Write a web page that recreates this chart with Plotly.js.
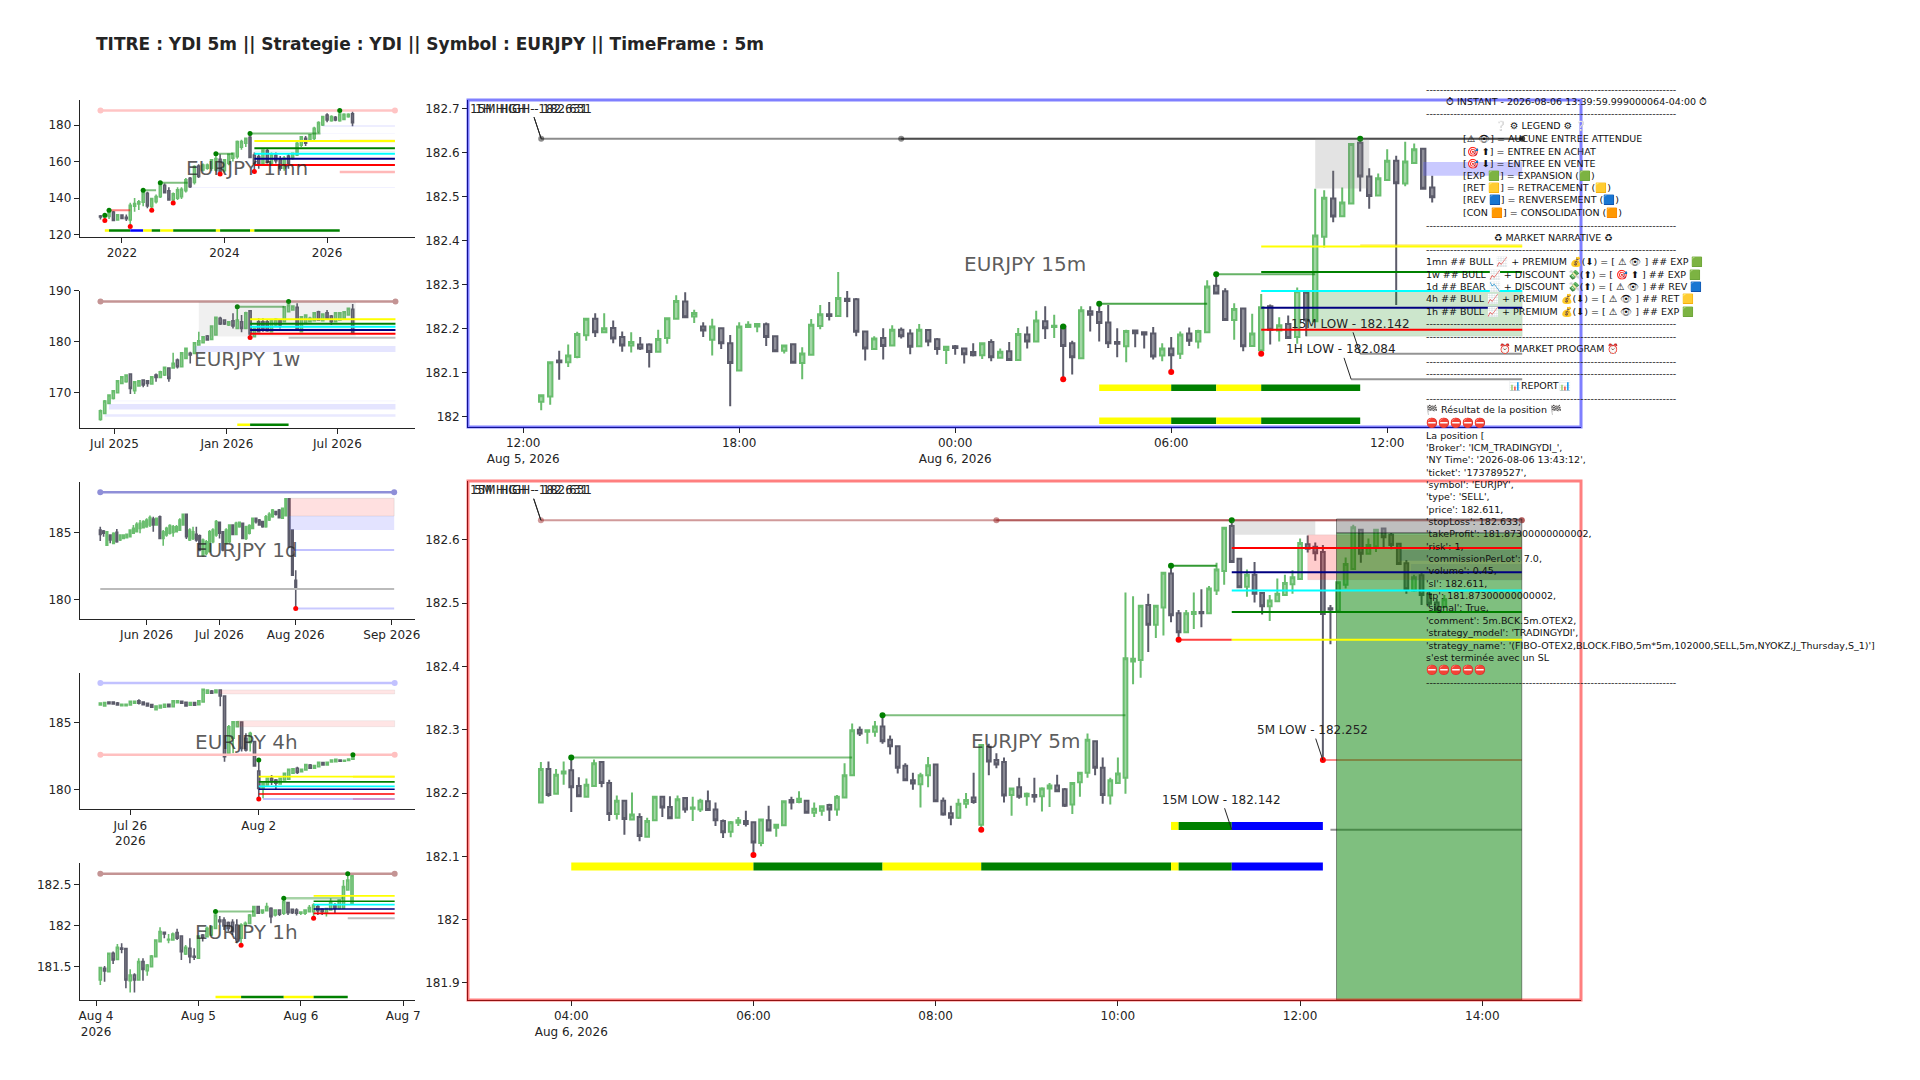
<!DOCTYPE html>
<html><head><meta charset="utf-8">
<script src="https://cdn.plot.ly/plotly-3.0.1.min.js"></script>
<style>html,body{margin:0;padding:0;background:#fff}</style></head>
<body><div id="chart" style="width:1920px;height:1080px"></div>
<script>
// ---- candle values, flat: open,high,low,close per candle ----
const ohlc1mn=[130.2,130.8,128.3,129.7, 129.7,131,127.8,129.9, 129.9,133.3,128.5,132.2, 132.4,133,127.5,127.8, 128,131,127.7,130.9, 130.7,131,128.5,128.9, 129.5,131,127.5,128.7, 128,137.5,124.4,136, 135.5,140,132.5,137, 136.8,139,133.5,138, 137.7,144.3,135.5,143, 142.6,143.5,134.5,135.7, 135.3,140,133.4,139.7, 138,142,137,140.8, 140.8,148.4,140,147.2, 147,148,142.5,143, 144,146,138.5,139, 139,143,137.3,142.3, 139.9,146,139,144.5, 140.8,146,139.5,144.8, 144.1,151,143,150, 150.8,151.5,145.5,146.3, 148.5,158,147.5,157.2, 157.6,158.5,151,151.8, 155.4,159,154.5,158.1, 156.3,159,155.5,158.1, 156.3,161,155,160.9, 155.4,164.3,154.5,161.6, 161.2,164,153.2,154.5, 155,161,154,160.9, 159,164,158,164, 161.8,165,160,164.5, 162.7,171.5,161.5,170.9, 167.8,172,166.5,170.9, 170,173,168,172.7, 173.3,175.4,162,162.2, 163.6,165,154.5,159.1, 162.8,164,156,159, 159,166.5,158,166.3, 166,167,159,160, 159,165,158,164, 163.4,165,159,160.5, 161.2,163,155,156.3, 156.3,163,155,161.8, 163,164.5,156,159, 162.3,165,161,164.5, 163.6,171,163,170, 169,174,168,173.6, 172.7,174,168.5,170, 171.8,175,171,174.6, 172.7,179,171.5,178.2, 176.4,182,175.5,181.3, 180,185,179.5,184.6, 185.5,186.5,181.5,182.8, 182.4,185.3,181.8,184.6, 184.2,185,182,182.8, 182.4,188,181.8,186, 183.1,186.5,182.8,185.9, 184.6,186.5,184,185.9, 186.1,187.5,179.3,181.3];
const ohlc1w=[164.77,166.73,164.51,166.47, 165.95,168.56,165.88,168.37, 167.91,169.67,167.78,169.54, 168.89,170.52,168.69,170.39, 170,172.48,169.87,172.35, 171.83,173.27,171.7,173.14, 172.16,173.59,171.96,173.46, 173.66,173.79,169.74,170.85, 170.39,172.29,169.74,172.16, 171.31,172.48,171.18,172.35, 172.48,172.61,171.05,171.5, 172.35,172.48,171.18,171.83, 171.7,173.27,171.57,173.14, 173.46,173.79,172.16,173.01, 173.01,174.31,172.88,174.12, 173.46,175.1,173.27,174.97, 174.84,174.97,172.16,172.81, 174.84,177.84,174.71,175.75, 176.41,176.73,174.77,175.1, 175.1,177.97,174.97,177.84, 176.73,178.82,176.6,178.69, 177.71,178.04,175.75,177.39, 177.71,179.93,177.58,179.8, 179.35,181.96,179.22,180.2, 179.8,181.11,179.67,180.98, 181.11,181.31,180.2,180.33, 180.46,183.2,180.33,183.07, 181.31,184.9,181.18,184.77, 184.58,184.9,183.27,183.46, 184.25,184.38,183.27,183.46, 183.27,184.05,183.07,183.92, 184.12,185.56,182.61,183.07, 182.61,186.86,182.48,184.25, 183.92,185.23,181.83,182.61, 182.61,185.88,182.48,185.69, 186.08,186.21,180.85,181.5, 180.98,182.75,180.85,182.61, 183.92,184.58,181.83,181.96, 183.92,184.58,181.96,182.29, 183.92,184.38,181.96,182.16, 181.96,184.38,181.83,184.25, 183.27,184.58,183.07,184.38, 184.25,184.38,182.61,183.27, 183.92,187,183.79,186.86, 185.88,187.9,185.75,187.19, 186.21,187.12,186.08,187, 186.73,187.52,182.16,182.29, 181.96,185.03,181.83,184.9, 183.59,185.36,183.46,185.23, 183.92,184.9,183.79,184.58, 184.12,185.82,183.99,185.69, 185.88,186.08,184.12,184.25, 184.12,185.56,183.99,185.42, 185.69,186.21,184.38,184.58, 185.03,185.23,183.27,183.92, 183.92,185.82,183.79,185.69, 184.25,185.82,184.12,185.69, 184.58,186.01,184.44,185.88, 185.23,186.67,185.1,186.54, 186.34,187.39,181.5,181.63];
const ohlc1d=[185.17,185.42,184.35,184.85, 185.1,185.17,184.68,184.93, 184.05,185.1,184,185.05, 184.8,184.85,184.18,184.43, 184.18,185,184.15,184.93, 185,185.25,184.23,184.3, 184.43,184.85,184.35,184.8, 184.55,184.85,184.5,184.8, 184.6,184.9,184.55,184.85, 184.68,185.22,184.65,185.17, 184.93,185.55,184.9,185.3, 185.05,185.75,185,185.6, 185.3,185.92,184.93,185.67, 185.35,185.9,185.3,185.8, 185.42,186.05,185.35,185.92, 185.55,186.25,185.4,186.1, 186,186.17,185.05,185.55, 185.55,186.1,185.5,186.05, 186.17,186.25,184.5,184.55, 184.55,185.17,184,185.05, 184.8,185.42,184.68,185.3, 184.93,185.6,184.85,185.5, 185,185.55,184.68,185.42, 185.05,185.55,185,185.42, 185.17,186.05,185.1,185.92, 185.55,186.4,185.5,186.35, 186.35,186.4,184.5,184.68, 184.43,185.3,184.35,185.17, 184.55,185.42,184.43,185.05, 184.85,185.42,184.3,184.43, 184.75,184.85,183.6,183.68, 183.3,184.55,183.18,184.43, 183.43,184.43,183.3,184.3, 183.55,185.17,183.5,185.05, 184.3,185.3,184.18,185.17, 184.8,185.92,184.68,185.8, 185.75,185.8,184.55,184.93, 185.05,185.1,183.6,183.68, 184.18,185.3,184.1,185.17, 184.3,185.6,184.18,185.55, 185.55,185.6,184.8,184.85, 184.85,185.8,184.8,185.67, 185.42,185.8,185.35,185.75, 185.67,185.72,184.5,184.55, 184.55,185.5,184.43,185.42, 184.93,185.6,184.85,185.5, 185.3,186.1,185.25,186.05, 186.05,186.1,185.67,185.8, 185.92,186,185.5,185.55, 185.8,185.85,185.35,185.42, 185.42,186.3,185.35,186.17, 185.92,186.5,185.85,186.35, 186.17,186.75,186.1,186.67, 186.55,186.6,186.25,186.35, 186.67,186.75,186.05,186.1, 186.05,186.85,186,186.8, 186.25,187.55,186.2,187.5, 187.5,187.55,183.85,183.93, 185.17,185.22,181.75,181.8, 181.43,182.18,179.33,180.77];
const ohlc4h=[186.31,186.49,186.29,186.46, 186.24,186.51,186.22,186.49, 186.53,186.58,186.36,186.41, 186.53,186.58,186.34,186.39, 186.46,186.53,186.29,186.31, 186.26,186.38,186.24,186.36, 186.26,186.38,186.24,186.36, 186.31,186.6,186.29,186.58, 186.44,186.63,186.41,186.58, 186.63,186.73,186.34,186.44, 186.53,186.58,186.31,186.34, 186.44,186.49,186.2,186.24, 186.34,186.39,186.1,186.14, 185.97,186.26,185.92,186.24, 186.09,186.34,186.04,186.29, 186.14,186.39,186.09,186.36, 186.36,186.41,186.16,186.19, 186.19,186.68,186.14,186.63, 186.49,186.68,186.44,186.63, 186.58,186.63,186.41,186.44, 186.51,186.56,186.19,186.24, 186.29,186.53,186.24,186.49, 186.49,186.53,186.24,186.29, 186.34,186.68,186.29,186.63, 186.53,187.48,186.49,187.48, 187.18,187.48,187.13,187.43, 187.35,187.43,187.13,187.18, 187.23,187.48,187.18,187.43, 187.43,187.48,186.21,186.98, 186.98,187.03,182.1,182.48, 182.72,184.83,182.67,184.7, 183.84,185.12,182.72,185.07, 184.7,185.12,184.65,185.07, 185.05,185.07,182.85,183.09, 183.84,184.21,182.85,182.97, 183.52,184.33,182.85,184.21, 183.59,183.66,181.73,181.78, 181.41,182.23,179.33,180.12, 180.12,180.55,179.38,180.5, 180.37,180.92,180.32,180.87, 180.87,181.11,180.37,180.62, 180.74,180.82,180.05,180.5, 180.45,180.92,180.4,180.87, 180.74,181.28,180.69,181.24, 180.8,181.58,180.75,181.54, 181.24,181.63,181.19,181.58, 181.61,181.73,181.19,181.31, 181.36,181.58,181.3,181.54, 181.49,181.93,181.44,181.88, 181.86,181.93,181.6,181.61, 181.61,181.85,181.56,181.81, 181.73,182.09,181.68,182.05, 182.03,182.08,181.8,181.86, 181.86,182.09,181.81,182.05, 182.08,182.28,182.03,182.23, 182.1,182.33,182.05,182.28, 182.23,182.28,182.08,182.13, 182.13,182.25,182.08,182.2, 182.2,182.33,182.15,182.3, 182.28,182.6,182.23,182.53];
const ohlc1h=[181.337,181.492,181.276,181.488, 181.48,181.508,181.317,181.447, 181.439,181.671,181.427,181.663, 181.663,181.683,181.533,181.581, 181.589,181.776,181.585,181.736, 181.728,181.785,181.663,181.711, 181.72,181.724,181.236,181.337, 181.329,181.467,181.183,181.398, 181.398,181.419,181.183,181.337, 181.337,181.602,181.329,181.561, 181.561,181.602,181.329,181.467, 181.451,181.533,181.39,181.52, 181.5,181.642,181.492,181.63, 181.622,181.833,181.614,181.825, 181.805,181.98,181.801,181.927, 181.919,181.927,181.846,181.898, 181.825,181.898,181.785,181.833, 181.825,181.915,181.817,181.898, 181.915,181.963,181.825,181.846, 181.874,181.882,181.581,181.683, 181.654,181.764,181.642,181.736, 181.724,181.846,181.541,181.622, 181.626,181.724,181.581,181.614, 181.602,181.882,181.598,181.874, 181.886,181.898,181.805,181.858, 181.866,181.988,181.858,181.967, 181.886,181.996,181.874,181.988, 181.967,182.171,181.963,182.13, 182.069,182.118,182.008,182.049, 182.069,182.102,181.947,181.996, 182.037,182.049,181.927,181.967, 182.041,182.077,181.886,181.927, 182.008,182.077,181.785,181.825, 181.846,182.028,181.76,182.008, 182.008,182.049,181.988,182.028, 182.028,182.142,182.02,182.13, 182.118,182.24,182.11,182.232, 182.232,182.24,182.142,182.15, 182.159,182.199,182.142,182.191, 182.183,182.28,182.171,182.232, 182.211,182.224,182.028,182.11, 182.13,182.199,182.11,182.191, 182.191,182.199,182.118,182.138, 182.15,182.333,182.13,182.293, 182.28,182.289,182.13,182.159, 182.199,182.207,182.142,182.159, 182.191,182.211,182.122,182.15, 182.15,182.171,182.13,182.167, 182.15,182.199,182.13,182.191, 182.171,182.252,182.159,182.22, 182.171,182.272,182.089,182.252, 182.232,182.252,182.13,182.183, 182.199,182.211,182.13,182.171, 182.15,182.211,182.11,182.207, 182.191,182.333,182.191,182.293, 182.252,182.272,182.15,182.211, 182.211,182.321,182.199,182.313, 182.211,182.557,182.207,182.476, 182.435,182.634,182.427,182.557, 182.272,182.631,182.252,182.618];
const ohlc15m=[182.033,182.049,182.014,182.048, 182.045,182.123,182.026,182.123, 182.127,182.149,182.083,182.123, 182.123,182.163,182.112,182.138, 182.135,182.192,182.132,182.187, 182.184,182.222,182.172,182.222, 182.222,182.234,182.18,182.191, 182.191,182.234,182.19,182.2, 182.201,182.218,182.166,182.177, 182.18,182.193,182.147,182.161, 182.161,182.191,182.145,182.169, 182.163,182.18,182.151,182.154, 182.163,182.166,182.111,182.146, 182.147,182.197,182.146,182.176, 182.178,182.225,182.165,182.223, 182.222,182.275,182.221,182.262, 182.261,182.282,182.224,182.225, 182.227,182.242,182.212,182.235, 182.204,182.214,182.18,182.195, 182.174,182.222,182.138,182.204, 182.2,182.202,182.153,182.166, 182.166,182.185,182.023,182.121, 182.104,182.214,182.104,182.204, 182.203,182.216,182.203,182.208, 182.204,182.212,182.191,182.21, 182.209,182.213,182.16,182.18, 182.182,182.183,182.146,182.148, 182.149,182.163,182.143,182.161, 182.164,182.166,182.121,182.122, 182.121,182.157,182.084,182.143, 182.14,182.221,182.139,182.208, 182.205,182.253,182.198,182.232, 182.232,182.26,182.218,182.228, 182.228,182.328,182.227,182.269, 182.267,182.285,182.225,182.262, 182.266,182.269,182.182,182.192, 182.193,182.195,182.127,182.154, 182.153,182.182,182.151,182.177, 182.178,182.2,182.129,182.16, 182.161,182.207,182.16,182.197, 182.197,182.202,182.177,182.182, 182.188,182.198,182.141,182.158, 182.159,182.21,182.158,182.197, 182.196,182.198,182.159,182.17, 182.175,182.178,182.14,182.153, 182.151,182.16,182.119,182.158, 182.159,182.162,182.14,182.155, 182.154,182.155,182.12,182.141, 182.146,182.166,182.136,182.139, 182.139,182.166,182.13,182.166, 182.169,182.175,182.125,182.134, 182.133,182.154,182.132,182.147, 182.148,182.169,182.127,182.128, 182.128,182.201,182.127,182.187, 182.186,182.204,182.154,182.17, 182.17,182.24,182.169,182.218, 182.216,182.25,182.176,182.2, 182.203,182.231,182.178,182.206, 182.204,182.206,182.085,182.16, 182.166,182.172,182.095,182.134, 182.132,182.25,182.132,182.241, 182.239,182.25,182.193,182.231, 182.237,182.256,182.17,182.212, 182.213,182.253,182.155,182.166, 182.169,182.2,182.134,182.165, 182.159,182.197,182.123,182.194, 182.195,182.197,182.157,182.189, 182.191,182.193,182.154,182.186, 182.188,182.203,182.129,182.136, 182.138,182.166,182.125,182.154, 182.154,182.18,182.101,182.139, 182.142,182.193,182.13,182.186, 182.188,182.202,182.16,182.172, 182.17,182.197,182.154,182.194, 182.191,182.309,182.191,182.295, 182.297,182.323,182.278,182.279, 182.284,182.291,182.218,182.219, 182.219,182.257,182.174,182.244, 182.245,182.247,182.148,182.159, 182.16,182.233,182.159,182.188, 182.15,182.278,182.142,182.248, 182.25,182.254,182.163,182.197, 182.195,182.225,182.17,182.207, 182.21,182.229,182.177,182.178, 182.18,182.293,182.165,182.284, 182.281,182.283,182.182,182.218, 182.216,182.517,182.215,182.411, 182.408,182.514,182.384,182.497, 182.495,182.558,182.441,182.454, 182.455,182.52,182.454,182.486, 182.484,182.62,182.483,182.619, 182.622,182.631,182.511,182.545, 182.545,182.564,182.472,182.501, 182.502,182.552,182.501,182.541, 182.537,182.607,182.536,182.581, 182.581,182.592,182.253,182.53, 182.529,182.624,182.523,182.579, 182.576,182.62,182.576,182.607, 182.608,182.61,182.516,182.517, 182.52,182.547,182.486,182.498];
const ohlc5m=[182.185,182.249,182.184,182.238, 182.238,182.25,182.194,182.197, 182.199,182.238,182.198,182.229, 182.231,182.25,182.213,182.234, 182.236,182.256,182.17,182.209, 182.211,182.225,182.194,182.195, 182.194,182.223,182.194,182.213, 182.211,182.253,182.211,182.247, 182.249,182.249,182.209,182.216, 182.216,182.221,182.156,182.167, 182.167,182.196,182.158,182.188, 182.188,182.189,182.134,182.159, 182.158,182.201,182.158,182.166, 182.162,182.168,182.124,182.132, 182.131,182.161,182.131,182.156, 182.157,182.195,182.156,182.194, 182.194,182.195,182.162,182.177, 182.178,182.195,182.159,182.16, 182.161,182.196,182.16,182.19, 182.192,182.193,182.169,182.174, 182.175,182.194,182.156,182.177, 182.174,182.191,182.17,182.188, 182.187,182.204,182.172,182.173, 182.174,182.185,182.148,182.157, 182.156,182.158,182.129,182.138, 182.139,182.156,182.13,182.154, 182.153,182.162,182.148,182.157, 182.156,182.172,182.147,182.151, 182.154,182.155,182.102,182.122, 182.121,182.159,182.116,182.158, 182.157,182.18,182.14,182.141, 182.145,182.151,182.131,182.15, 182.149,182.188,182.148,182.187, 182.189,182.194,182.174,182.185, 182.186,182.203,182.184,182.191, 182.188,182.189,182.168,182.169, 182.169,182.185,182.162,182.175, 182.172,182.18,182.164,182.179, 182.181,182.183,182.156,182.174, 182.174,182.197,182.164,182.194, 182.193,182.247,182.193,182.228, 182.228,182.31,182.227,182.299, 182.3,182.305,182.29,182.294, 182.297,182.3,182.278,182.299, 182.297,182.314,182.289,182.305, 182.305,182.323,182.278,182.282, 182.284,182.291,182.261,182.274, 182.274,182.274,182.231,182.24, 182.243,182.247,182.219,182.22, 182.22,182.232,182.205,182.215, 182.214,182.232,182.177,182.228, 182.228,182.257,182.209,182.244, 182.245,182.245,182.186,182.187, 182.188,182.193,182.164,182.166, 182.168,182.18,182.149,182.161, 182.161,182.191,182.159,182.183, 182.183,182.2,182.176,182.189, 182.193,182.232,182.183,182.186, 182.15,182.277,182.142,182.276, 182.273,182.278,182.228,182.25, 182.252,182.263,182.239,182.245, 182.249,182.256,182.185,182.196, 182.197,182.208,182.164,182.207, 182.209,182.224,182.191,182.194, 182.195,182.201,182.18,182.199, 182.197,182.224,182.185,182.194, 182.195,182.209,182.171,182.207, 182.207,182.216,182.178,182.212, 182.212,182.229,182.202,182.203, 182.206,182.208,182.178,182.18, 182.182,182.217,182.167,182.216, 182.217,182.233,182.194,182.232, 182.232,182.294,182.224,182.284, 182.282,182.283,182.228,182.24, 182.24,182.256,182.183,182.197, 182.196,182.224,182.182,182.22, 182.216,182.256,182.216,182.231, 182.224,182.517,182.199,182.413, 182.408,182.511,182.372,182.412, 182.41,182.497,182.382,182.496, 182.497,182.515,182.423,182.466, 182.466,182.497,182.445,182.496, 182.493,182.549,182.449,182.548, 182.547,182.559,182.47,182.481, 182.484,182.489,182.442,182.454, 182.454,182.489,182.454,182.484, 182.483,182.517,182.459,182.486, 182.486,182.522,182.462,182.484, 182.484,182.527,182.483,182.523, 182.52,182.564,182.513,182.553, 182.551,182.619,182.529,182.619, 182.622,182.63,182.564,182.565, 182.57,182.571,182.524,182.525, 182.526,182.553,182.51,182.545, 182.545,182.565,182.501,182.515, 182.516,182.517,182.482,182.495, 182.495,182.513,182.472,182.504, 182.503,182.539,182.502,182.515, 182.513,182.545,182.512,182.532, 182.53,182.552,182.515,182.541, 182.538,182.602,182.538,182.595, 182.593,182.607,182.58,182.586, 182.589,182.596,182.567,182.579, 182.581,182.592,182.252,182.483, 182.492,182.497,182.435,182.49, 182.488,182.533,182.487,182.533, 182.529,182.572,182.523,182.562, 182.554,182.624,182.553,182.62, 182.616,182.617,182.564,182.578, 182.578,182.602,182.577,182.592, 182.59,182.617,182.581,182.616, 182.618,182.619,182.588,182.604, 182.608,182.611,182.585,182.592, 182.594,182.594,182.561,182.562, 182.563,182.568,182.515,182.522, 182.52,182.545,182.518,182.541, 182.544,182.548,182.497,182.513, 182.514,182.518,182.494,182.499, 182.501,182.507,182.488,182.489, 182.494,182.513,182.493,182.506];

// ---- level values ----
const levelColors=['#ffff00','#008000','#00ffff','#000080','#ff0000'];
const levels1mn=[171.3,167.3,164.3,161.6,158.1];
const levels1w=[184.38,183.53,182.94,182.29,181.57];
const levels4h=[180.99,180.6,180.27,180.05,179.7];
const levels1h=[182.362,182.297,182.256,182.203,182.15];
const levels15m=[182.386,182.328,182.285,182.247,182.197];
const levels5m=[182.442,182.486,182.52,182.549,182.587];
const high1mn=188, high1w=187.9, high1d=188, highA4h=187.95, highB4h=182.62, high1h=182.634, highAll=182.631;
const low15m=182.142, low1h=182.084, low5m=182.252, low1d=179.33;

// ---- text ----
const titleText='TITRE : YDI 5m || Strategie : YDI || Symbol : EURJPY || TimeFrame : 5m';
const dash='-'.repeat(73);
const sideLines=[dash,'⏱ INSTANT - 2026-08-06 13:39:59.999000064-04:00 ⏱',dash,'❔ ⚙ LEGEND ⚙ ❔','[⚠ 👁] = AUCUNE ENTREE ATTENDUE','[🎯 ⬆] = ENTREE EN ACHAT','[🎯 ⬇] = ENTREE EN VENTE','[EXP 🟩] = EXPANSION (🟩)','[RET 🟨] = RETRACEMENT (🟨)','[REV 🟦] = RENVERSEMENT (🟦)','[CON 🟧] = CONSOLIDATION (🟧)',dash,'♻ MARKET NARRATIVE ♻',dash,'1mn ## BULL 📈 + PREMIUM 💰(⬇) = [ ⚠ 👁 ] ## EXP 🟩','1w ## BULL 📈 + DISCOUNT 💸(⬆) = [ 🎯 ⬆ ] ## EXP 🟩','1d ## BEAR 📉 + DISCOUNT 💸(⬆) = [ ⚠ 👁 ] ## REV 🟦','4h ## BULL 📈 + PREMIUM 💰(⬇) = [ ⚠ 👁 ] ## RET 🟨','1h ## BULL 📈 + PREMIUM 💰(⬇) = [ ⚠ 👁 ] ## EXP 🟩',dash,dash,'⏰ MARKET PROGRAM ⏰',dash,dash,'📊REPORT📊',dash,'🏁 Résultat de la position 🏁','⛔⛔⛔⛔⛔','La position [',"'Broker': 'ICM_TRADINGYDI_',","'NY Time': '2026-08-06 13:43:12',","'ticket': '173789527',","'symbol': 'EURJPY',","'type': 'SELL',","'price': 182.611,","'stopLoss': 182.633,","'takeProfit': 181.87300000000002,","'risk': 1,","'commissionPerLot': 7.0,","'volume': 0.45,","'sl': 182.611,","'tp': 181.87300000000002,","'signal': True,","'comment': 5m.BCK.5m.OTEX2,","'strategy_model': 'TRADINGYDI',","'strategy_name': '(FIBO-OTEX2,BLOCK.FIBO,5m*5m,102000,SELL,5m,NYOKZ,J_Thursday,S_1)']","s'est terminée avec un SL",'⛔⛔⛔⛔⛔',dash];
const sideIndent={1:1444,3:1493,4:1461.3,5:1461.3,6:1461.3,7:1461.3,8:1461.3,9:1461.3,10:1461.3,12:1491.7,21:1497.3,24:1507.3};

// ---- helpers ----
const HOUR=3600000, DAY=24*HOUR;
const ms=s=>Date.parse(s.replace(' ','T')+(s.length>10?':00Z':'T00:00:00Z'));
const fmt=t=>new Date(t).toISOString().slice(0,16).replace('T',' ');
const regular=(start,step,n)=>{const a=[];for(let i=0;i<n;i++)a.push(fmt(ms(start)+i*step));return a;};
const monthly=(y,m,n)=>{const a=[];for(let i=0;i<n;i++){const d=new Date(Date.UTC(y,m-1+i,1));a.push(d.toISOString().slice(0,10));}return a;};
const weekdays=(start,step,n)=>{const a=[];let t=ms(start);while(a.length<n){const w=new Date(t).getUTCDay();if(w!==0&&w!==6)a.push(fmt(t));t+=step;}return a;};
const per=(flat,k)=>flat.filter((_,i)=>i%4===k);

const data=[],shapes=[],annotations=[];
const INC='#69bd6e',DEC='#5b5b6a';
const axX=n=>n===1?'x':'x'+n, axY=n=>n===1?'y':'y'+n;
function candles(n,x,flat,lw){
  data.push({type:'candlestick',xaxis:axX(n),yaxis:axY(n),x,open:per(flat,0),high:per(flat,1),low:per(flat,2),close:per(flat,3),
    increasing:{line:{color:INC,width:lw},fillcolor:'rgba(105,189,110,.62)'},decreasing:{line:{color:DEC,width:lw},fillcolor:'rgba(91,91,106,.68)'},showlegend:false,hoverinfo:'skip'});
}
function line(n,xs,ys,color,w,dots,size){
  data.push({type:'scatter',xaxis:axX(n),yaxis:axY(n),x:xs,y:ys,mode:dots?'lines+markers':'lines',line:{color,width:w},marker:{color,size:size||7},showlegend:false,hoverinfo:'skip'});
}
function dots(n,pts,color,size){
  data.push({type:'scatter',xaxis:axX(n),yaxis:axY(n),x:pts.map(p=>p[0]),y:pts.map(p=>p[1]),mode:'markers',marker:{color,size},showlegend:false,hoverinfo:'skip'});
}
function box(n,x0,x1,y0,y1,fill,edge){
  shapes.push({type:'rect',xref:axX(n),yref:axY(n),x0,x1,y0,y1,fillcolor:fill,line:{color:edge||'rgba(0,0,0,0)',width:edge?1:0},layer:'above'});
}
function bars(n,segs,y,w){
  const col={y:'#ffff00',g:'#008000',b:'#0000ff'};
  segs.forEach(s=>line(n,[s[1],s[2]],[y,y],col[s[0]],w));
}
function levelLines(n,x0,x1,vals,cols,w){
  vals.forEach((v,i)=>shapes.push({type:'line',xref:axX(n),yref:axY(n),x0,x1,y0:v,y1:v,line:{color:cols[i],width:w},layer:'above'}));
}

// ---- x values ----
const x1mn=monthly(2021,8,ohlc1mn.length/4);
const x1w=regular('2025-06-08',7*DAY,ohlc1w.length/4);
const x1d=weekdays('2026-05-12',DAY,ohlc1d.length/4);
const x4h=weekdays('2026-07-23 20:00',4*HOUR,ohlc4h.length/4);
const x1h=regular('2026-08-04 01:00',HOUR,ohlc1h.length/4);
const x15m=regular('2026-08-05 12:30',15*60000,ohlc15m.length/4);
const x5m=regular('2026-08-06 03:40',5*60000,ohlc5m.length/4);

// ---- panel 1: 1mn ----
const end1mn='2027-04-29';
candles(1,x1mn,ohlc1mn,1.6);
box(1,'2025-12-01',end1mn,179.0,179.9,'rgba(100,100,255,.15)');
box(1,'2025-11-01',end1mn,175.3,175.6,'rgba(100,100,255,.1)');
box(1,'2023-05-01',end1mn,145.7,146.1,'rgba(100,100,255,.12)');
box(1,'2024-08-01',end1mn,165.2,165.9,'rgba(128,128,128,.12)');
line(1,[x1mn[0],end1mn],[high1mn,high1mn],'#ffc4c4',2.5,true,6);
line(1,['2021-10-01','2022-03-01'],[133.3,133.3],'rgba(255,0,0,.5)',2);
line(1,['2022-06-01','2022-09-01'],[144.3,144.3],'rgba(0,128,0,.5)',2);
line(1,['2022-10-01','2023-04-15'],[148.4,148.4],'rgba(0,128,0,.5)',2);
line(1,['2023-11-01','2024-03-01'],[164.3,164.3],'rgba(0,128,0,.5)',2);
line(1,['2024-07-01','2025-11-15'],[175.4,175.4],'rgba(0,128,0,.5)',2);
levelLines(1,'2024-08-01',end1mn,levels1mn,levelColors,2);
line(1,['2026-04-01',end1mn],[171.3,171.3],'rgba(255,215,0,.6)',2.5);
line(1,['2026-04-01',end1mn],[154.3,154.3],'rgba(255,0,0,.28)',2.5);
dots(1,[['2021-09-01',130.6],['2021-10-01',133.3],['2022-06-01',144.3],['2022-10-01',148.4],['2023-11-01',164.3],['2024-07-01',175.4],['2026-04-01',188]],'#008000',5);
dots(1,[['2021-09-01',127.8],['2022-03-01',124.4],['2022-08-01',133.3],['2023-01-01',137.3],['2023-12-01',153.2],['2024-08-01',154.5]],'#ff0000',5);
bars(1,[['y','2021-09-01','2021-10-01'],['g','2021-10-01','2022-03-01'],['b','2022-03-01','2022-06-01'],['y','2022-06-01','2022-08-01'],['g','2022-08-01','2022-10-01'],['y','2022-10-01','2023-01-01'],['g','2023-01-01','2023-11-01'],['y','2023-11-01','2023-12-01'],['g','2023-12-01','2024-07-01'],['y','2024-07-01','2024-08-01'],['g','2024-08-01','2026-04-01']],122.2,2.5);

// ---- panel 2: 1w ----
const end1w='2026-10-04';
box(2,'2025-11-16','2026-07-31',181,187.84,'rgba(128,128,128,.12)');
candles(2,x1w,ohlc1w,1.6);
box(2,'2025-11-09',end1w,177.97,179.15,'rgba(100,100,255,.17)');
box(2,'2025-06-22',end1w,166.73,167.78,'rgba(100,100,255,.17)');
box(2,'2025-06-15',end1w,165.3,165.8,'rgba(100,100,255,.14)');
box(2,'2025-06-22',end1w,168.3,168.5,'rgba(100,100,255,.05)');
line(2,[x1w[0],end1w],[high1w,high1w],'#c49494',2.5,true,6);
line(2,[x1w[32],x1w[43]],[186.86,186.86],'rgba(0,128,0,.5)',2);
line(2,[x1w[32],x1w[32]],[186.86,184.25],'rgba(0,128,0,.3)',1);
levelLines(2,x1w[35],end1w,levels1w,levelColors,2);
line(2,[x1w[44],end1w],[180.78,180.78],'rgba(128,128,128,.5)',2);
dots(2,[[x1w[32],186.86],[x1w[44],187.9]],'#008000',5);
dots(2,[[x1w[35],180.8]],'#ff0000',5);
bars(2,[['y',x1w[32],x1w[35]],['g',x1w[35],x1w[44]]],163.73,2.5);

// ---- panel 3: 1d ----
const end1d='2026-09-01 17:00';
candles(3,x1d,ohlc1d,1.6);
box(3,'2026-07-30',end1d,186.22,187.54,'rgba(255,0,0,.12)','rgba(128,128,128,.15)');
box(3,'2026-07-30',end1d,185.17,186.22,'rgba(100,100,255,.18)');
line(3,[x1d[0],end1d],[high1d,high1d],'#8f8fd8',2.5,true,6);
line(3,[x1d[0],end1d],[180.77,180.77],'#bbbbbb',2);
line(3,[x1d[58],end1d],[183.68,183.68],'rgba(100,100,255,.4)',2);
line(3,[x1d[59],end1d],[low1d,low1d],'rgba(100,100,255,.35)',2);
dots(3,[[x1d[59],low1d]],'#ff0000',5);

// ---- panel 4: 4h ----
const end4h='2026-08-08 07:00';
candles(4,x4h,ohlc4h,1.6);
box(4,x4h[28],end4h,187.13,187.43,'rgba(255,0,0,.1)','rgba(128,128,128,.1)');
box(4,x4h[32],end4h,184.7,185.15,'rgba(255,0,0,.1)','rgba(128,128,128,.1)');
line(4,[x4h[0],end4h],[highA4h,highA4h],'#c2c2ff',2.5,true,6);
line(4,[x4h[0],end4h],[highB4h,highB4h],'#ffc0c0',2.5,true,6);
levelLines(4,x4h[37],end4h,levels4h,levelColors,1.6);
line(4,[x4h[38],end4h],[low1d,low1d],'rgba(100,100,255,.4)',2);
line(4,[x4h[59],end4h],[low1d,low1d],'rgba(220,60,120,.35)',2);
line(4,[x4h[59],end4h],[180.99,180.99],'rgba(255,215,0,.6)',2);
dots(4,[[x4h[37],182.23],[x4h[59],182.62]],'#008000',5);
dots(4,[[x4h[37],low1d]],'#ff0000',5);

// ---- panel 5: 1h ----
const end1h='2026-08-06 22:00';
candles(5,x1h,ohlc1h,1.6);
line(5,[x1h[0],end1h],[high1h,high1h],'#c49494',2.5,true,6);
line(5,[x1h[27],x1h[36]],[182.171,182.171],'rgba(0,128,0,.45)',2);
line(5,[x1h[43],x1h[57]],[182.333,182.333],'rgba(0,128,0,.35)',2.5);
levelLines(5,x1h[50],end1h,levels1h,levelColors,1.7);
line(5,[x1h[58],end1h],[182.09,182.09],'rgba(128,128,128,.5)',2);
dots(5,[[x1h[27],182.171],[x1h[43],182.333],[x1h[58],high1h]],'#008000',5);
dots(5,[[x1h[33],181.76],[x1h[50],182.09]],'#ff0000',5);
bars(5,[['y',x1h[27],x1h[33]],['g',x1h[33],x1h[43]],['y',x1h[43],x1h[50]],['g',x1h[50],x1h[58]]],181.13,2.5);

// ---- panel 6: 15m ----
const end15m='2026-08-06 15:45';
box(6,'2026-08-06 10:00','2026-08-06 11:30',182.518,182.631,'rgba(128,128,128,.22)');
box(6,'2026-08-06 09:45',end15m,182.182,182.285,'rgba(0,128,0,.2)','rgba(128,128,128,.12)');
box(6,'2026-08-06 13:00',end15m,182.547,182.578,'rgba(100,100,255,.35)');
candles(6,x15m,ohlc15m,2);
line(6,[x15m[0],end15m],[highAll,highAll],'rgba(0,0,0,.45)',2,true,6);
line(6,[x15m[40],end15m],[highAll,highAll],'rgba(0,0,0,.45)',2,true,6);
line(6,[x15m[62],x15m[74]],[182.256,182.256],'rgba(0,128,0,.7)',2);
line(6,[x15m[75],x15m[86]],[182.323,182.323],'rgba(0,128,0,.6)',2);
levelLines(6,x15m[80],end15m,levels15m,levelColors,2);
line(6,[x15m[91],end15m],[182.388,182.388],'rgba(255,215,0,.5)',2.5);
line(6,[x15m[91],end15m],[low15m,low15m],'rgba(0,0,0,.42)',2);
line(6,['2026-08-06 11:00',end15m],[low1h,low1h],'rgba(0,0,0,.42)',2);
dots(6,[[x15m[58],182.204],[x15m[62],182.256],[x15m[75],182.323],[x15m[91],highAll]],'#008000',6);
dots(6,[[x15m[58],low1h],[x15m[70],182.101],[x15m[80],low15m]],'#ff0000',6);
[182.065,181.99].forEach(y=>bars(6,[['y',x15m[62],x15m[70]],['g',x15m[70],x15m[75]],['y',x15m[75],x15m[80]],['g',x15m[80],x15m[91]]],y,6.5));

// ---- panel 7: 5m ----
const end5m='2026-08-06 14:26';
box(7,x5m[91],'2026-08-06 12:10',182.608,182.63,'rgba(128,128,128,.22)');
box(7,'2026-08-06 12:05',end5m,182.537,182.608,'rgba(255,0,0,.2)','rgba(128,128,128,.1)');
candles(7,x5m,ohlc5m,2);
line(7,[x5m[0],end5m],[highAll,highAll],'rgba(150,30,30,.45)',2,true,6);
line(7,[x5m[60],end5m],[highAll,highAll],'rgba(150,30,30,.5)',2,true,6);
line(7,[x5m[4],x5m[41]],[182.256,182.256],'rgba(0,128,0,.5)',2);
line(7,[x5m[45],x5m[77]],[182.323,182.323],'rgba(0,128,0,.5)',2);
line(7,[x5m[83],x5m[89]],[182.559,182.559],'rgba(0,128,0,.8)',2);
line(7,[x5m[84],x5m[91]],[182.442,182.442],'rgba(255,0,0,.75)',2);
line(7,[x5m[103],end5m],[low5m,low5m],'rgba(255,0,0,.45)',2);
line(7,[x5m[104],end5m],[low15m,low15m],'rgba(0,0,0,.42)',2);
dots(7,[[x5m[4],182.256],[x5m[45],182.323],[x5m[83],182.559],[x5m[91],highAll]],'#008000',6);
dots(7,[[x5m[28],182.102],[x5m[58],low15m],[x5m[84],182.442],[x5m[103],low5m]],'#ff0000',6);
bars(7,[['y',x5m[83],x5m[84]],['g',x5m[84],x5m[91]],['b',x5m[91],x5m[103]]],182.148,8);
bars(7,[['y',x5m[4],x5m[28]],['g',x5m[28],x5m[45]],['y',x5m[45],x5m[58]],['g',x5m[58],x5m[83]],['y',x5m[83],x5m[84]],['g',x5m[84],x5m[91]],['b',x5m[91],x5m[103]]],182.084,8);
box(7,'2026-08-06 13:06',end5m,182.567,182.584,'rgba(60,60,200,.25)');
box(7,'2026-08-06 13:13',end5m,182.536,182.562,'rgba(60,60,200,.15)');
box(7,'2026-08-06 12:24',end5m,181.873,182.611,'rgba(0,128,0,.5)','rgba(0,0,0,.4)');
box(7,'2026-08-06 12:24',end5m,182.611,182.633,'rgba(128,128,128,.5)','rgba(0,0,0,.4)');
levelLines(7,x5m[91],end5m,levels5m,levelColors,2);

// ---- layout ----
const ink='rgb(36,36,36)';
const panelDefs=[
 {n:1,l:79.7,r:415,t:100,b:237,xr:['2021-03-06','2027-09-19'],yr:[118.7,193.7],t0:'2022-01-01',dt:'M24',y0:120,dy:20},
 {n:2,l:79.7,r:415,t:290.7,b:427.7,xr:['2025-05-05','2026-11-05'],yr:[163.14,190],t0:'2025-01-01',dt:'M6',y0:170,dy:10},
 {n:3,l:79.7,r:415,t:481.7,b:618.7,xr:['2026-05-05 19:00','2026-09-08 00:00'],yr:[178.56,188.78],t0:'2026-01-01',dt:'M1',y0:180,dy:5,breaks:['2026-05-16','2026-05-17','2026-05-23','2026-05-24','2026-05-30','2026-05-31','2026-06-06','2026-06-07','2026-06-13','2026-06-14','2026-06-20','2026-06-21','2026-06-27','2026-06-28','2026-07-04','2026-07-05','2026-07-11','2026-07-12','2026-07-18','2026-07-19','2026-07-25','2026-07-26','2026-08-01','2026-08-02']},
 {n:4,l:79.7,r:415,t:672.7,b:809.3,xr:['2026-07-23 00:40','2026-08-09 02:00'],yr:[178.565,188.71],tv:['2026-07-27','2026-08-03'],tt:['Jul 26<br>2026','Aug 2'],y0:180,dy:5,breaks:['2026-07-25','2026-07-26','2026-08-01','2026-08-02']},
 {n:5,l:79.7,r:415,t:863.3,b:1000,xr:['2026-08-03 20:10','2026-08-07 02:46'],yr:[181.093,182.76],t0:'2026-08-04',dt:DAY,y0:181.5,dy:.5},
 {n:6,l:468,r:1581,t:100,b:427,xr:['2026-08-05 10:28','2026-08-06 17:23'],yr:[181.9757,182.719],t0:'2026-08-05 12:00',dt:6*HOUR,y0:182,dy:.1},
 {n:7,l:468,r:1581,t:481,b:1000,xr:['2026-08-06 02:52','2026-08-06 15:05'],yr:[181.873,182.693],t0:'2026-08-06 04:00',dt:2*HOUR,y0:181.9,dy:.1}
];
const fig={width:1920,height:1080,margin:{l:0,r:0,t:0,b:0},paper_bgcolor:'#fff',plot_bgcolor:'rgba(0,0,0,0)',showlegend:false,
  font:{family:'"DejaVu Sans",sans-serif',size:12,color:ink},
  title:{text:'<b>'+titleText+'</b>',x:96/1920,xanchor:'left',xref:'paper',y:1-44/1080,yanchor:'middle',font:{family:'"DejaVu Sans",sans-serif',size:17,color:ink}},
  shapes,annotations};
panelDefs.forEach(p=>{
  const s=p.n===1?'':p.n;
  const xa={anchor:'y'+s,type:'date',domain:[p.l/1920,p.r/1920],range:p.xr,showline:true,linecolor:ink,ticks:'outside',ticklen:5,tickcolor:ink,showgrid:false,zeroline:false,rangeslider:{visible:false},tickfont:{size:12,color:ink}};
  if(p.tv){xa.tickmode='array';xa.tickvals=p.tv;xa.ticktext=p.tt;}else{xa.tickmode='linear';xa.tick0=p.t0;xa.dtick=p.dt;}
  if(p.breaks)xa.rangebreaks=[{values:p.breaks,dvalue:DAY}];
  fig['xaxis'+s]=xa;
  fig['yaxis'+s]={anchor:'x'+s,domain:[1-p.b/1080,1-p.t/1080],range:p.yr,tick0:p.y0,dtick:p.dy,tickmode:'linear',showline:true,linecolor:ink,ticks:'outside',ticklen:5,tickcolor:ink,showgrid:false,zeroline:false,tickfont:{size:12,color:ink}};
});
// frames around the two large panels
shapes.push({type:'rect',xref:'paper',yref:'paper',x0:468/1920,x1:1581/1920,y0:1-427/1080,y1:1-100/1080,line:{color:'rgba(0,0,255,.5)',width:3},layer:'above'});
shapes.push({type:'rect',xref:'paper',yref:'paper',x0:468/1920,x1:1581/1920,y0:1-1000/1080,y1:1-481/1080,line:{color:'rgba(255,0,0,.5)',width:3},layer:'above'});

// panel captions
[['EURJPY 1mn',247,168],['EURJPY 1w',247,359],['EURJPY 1d',247,550],['EURJPY 4h',247,741.7],['EURJPY 1h',247,931.7],['EURJPY 15m',1024.5,264],['EURJPY 5m',1025,740.7]].forEach(a=>{
  annotations.push({xref:'paper',yref:'paper',x:a[1]/1920,y:1-a[2]/1080,text:a[0],showarrow:false,xanchor:'center',yanchor:'middle',font:{size:20,color:'rgba(40,40,40,.75)'}});
});
function callout(n,x,y,text){annotations.push({xref:'x'+n,yref:'y'+n,x,y,text,showarrow:true,arrowhead:0,arrowwidth:1,arrowcolor:ink,ax:-10,ay:-30,font:{size:12,color:ink}});}
callout(6,x15m[0],highAll,'15M HIGH - 182.631');
callout(6,x15m[0],highAll,'1H HIGH - 182.631');
callout(6,x15m[91],low15m,'15M LOW - 182.142');
callout(6,'2026-08-06 11:00',low1h,'1H LOW - 182.084');
callout(7,x5m[0],highAll,'15M HIGH - 182.631');
callout(7,x5m[0],highAll,'5M HIGH - 182.631');
callout(7,x5m[103],low5m,'5M LOW - 182.252');
callout(7,x5m[91],low15m,'15M LOW - 182.142');

sideLines.forEach((t,i)=>{
  annotations.push({xref:'paper',yref:'paper',x:(sideIndent[i]||1424.3)/1920,y:1-(89.3+12.35*i)/1080,text:t,showarrow:false,xanchor:'left',yanchor:'middle',align:'left',font:{size:9.5,color:'#111'}});
});
Plotly.newPlot('chart',data,fig,{displayModeBar:false,responsive:false,staticPlot:true});
</script></body></html>
